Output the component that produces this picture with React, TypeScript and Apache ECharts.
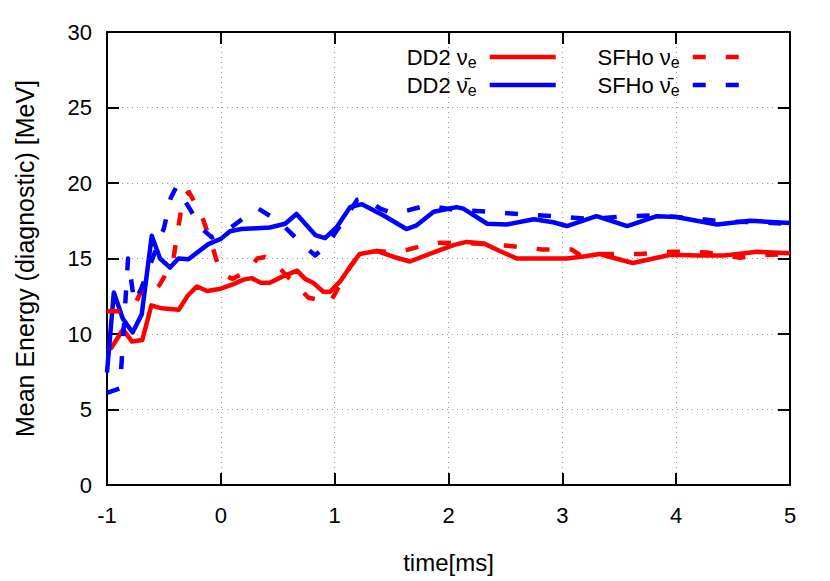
import React, { useEffect, useRef } from 'react';
import * as echarts from 'echarts';
import type { EChartsOption } from 'echarts';

// [time (ms), mean energy (MeV)]
const dd2Nue: [number, number][] = [
  [-1.0, 8.9], [-0.96, 9.1], [-0.86, 10.3], [-0.78, 9.5], [-0.69, 9.6], [-0.61, 11.9],
  [-0.52, 11.7], [-0.37, 11.6], [-0.29, 12.55], [-0.21, 13.15], [-0.12, 12.85], [0.0, 13.0],
  [0.11, 13.3], [0.2, 13.6], [0.27, 13.7], [0.35, 13.4], [0.43, 13.4], [0.54, 13.8],
  [0.67, 14.2], [0.74, 13.65], [0.81, 13.4], [0.9, 12.8], [0.96, 12.8], [1.05, 13.5],
  [1.14, 14.5], [1.22, 15.3], [1.37, 15.5], [1.52, 15.1], [1.66, 14.8], [1.87, 15.4],
  [2.05, 15.9], [2.16, 16.1], [2.31, 16.0], [2.45, 15.5], [2.6, 15.0], [2.8, 15.0],
  [3.04, 15.0], [3.2, 15.15], [3.33, 15.3], [3.47, 15.0], [3.62, 14.7], [3.8, 15.0],
  [3.95, 15.25], [4.2, 15.2], [4.42, 15.2], [4.6, 15.35], [4.71, 15.45], [5.0, 15.35],
];

const dd2Anue: [number, number][] = [
  [-1.0, 7.45], [-0.94, 12.75], [-0.86, 11.0], [-0.775, 10.1], [-0.695, 11.3], [-0.607, 16.5],
  [-0.534, 15.0], [-0.446, 14.4], [-0.373, 15.0], [-0.285, 14.95], [-0.11, 15.95], [0.0, 16.3],
  [0.08, 16.8], [0.18, 16.95], [0.315, 17.0], [0.43, 17.05], [0.565, 17.3], [0.665, 17.95],
  [0.83, 16.55], [0.915, 16.35], [1.02, 17.1], [1.135, 18.4], [1.24, 18.6], [1.43, 17.85],
  [1.63, 16.95], [1.72, 17.2], [1.87, 18.1], [2.07, 18.4], [2.13, 18.3], [2.34, 17.3],
  [2.51, 17.25], [2.75, 17.6], [2.92, 17.4], [3.04, 17.15], [3.3, 17.8], [3.57, 17.15],
  [3.83, 17.8], [4.0, 17.75], [4.36, 17.25], [4.65, 17.5], [5.0, 17.35],
];

const sfhoNue: [number, number][] = [
  [-1.0, 11.5], [-0.89, 11.5], [-0.8, 11.9], [-0.745, 12.1], [-0.69, 13.0], [-0.62, 13.2],
  [-0.578, 12.9], [-0.534, 13.3], [-0.42, 14.8], [-0.375, 17.0], [-0.33, 19.1], [-0.28, 19.4],
  [-0.17, 17.9], [-0.07, 15.7], [-0.007, 14.1], [0.1, 13.65], [0.24, 14.2], [0.32, 15.0],
  [0.39, 15.1], [0.48, 14.7], [0.56, 14.0], [0.68, 13.1], [0.77, 12.4], [0.96, 12.1],
  [1.05, 13.3], [1.14, 14.5], [1.22, 15.3], [1.37, 15.5], [1.52, 15.4], [1.65, 15.6],
  [1.8, 15.9], [1.93, 16.05], [2.22, 16.0], [2.52, 15.85], [2.82, 15.6], [3.08, 15.6],
  [3.15, 15.25], [3.35, 15.3], [3.68, 15.3], [3.97, 15.45], [4.27, 15.4], [4.56, 15.05],
  [4.7, 15.2], [5.0, 15.3],
];

const sfhoAnue: [number, number][] = [
  [-1.0, 6.1], [-0.886, 6.4], [-0.815, 15.0], [-0.76, 12.1], [-0.7, 13.0], [-0.6, 15.0],
  [-0.5, 17.0], [-0.44, 19.0], [-0.39, 19.75], [-0.17, 17.0], [-0.08, 16.4], [0.06, 16.9],
  [0.26, 18.0], [0.33, 18.3], [0.52, 17.4], [0.72, 15.9], [0.83, 15.2], [0.94, 16.0],
  [1.05, 17.2], [1.2, 18.9], [1.26, 19.0], [1.4, 18.3], [1.51, 18.0], [1.65, 18.2],
  [1.8, 18.5], [2.08, 18.2], [2.37, 18.1], [2.67, 17.9], [2.96, 17.8], [3.25, 17.6],
  [3.54, 17.8], [3.82, 17.85], [4.1, 17.7], [4.42, 17.45], [4.7, 17.4], [5.0, 17.3],
];

const seriesNames = ['DD2 νe', 'DD2 ν̄e', 'SFHo νe', 'SFHo ν̄e'];
const legendLabels: Record<string, string> = {
  'DD2 νe': '{t|DD2 ν}{s|e}',
  'DD2 ν̄e': '{t|DD2 ν\u0304}{s|e}',
  'SFHo νe': '{t|SFHo ν}{s|e}',
  'SFHo ν̄e': '{t|SFHo ν\u0304}{s|e}',
};

const FONT = "'Liberation Sans', Arial, Helvetica, sans-serif";
const DASH = [13, 20];
const LINE_W = 4.5;

const legendText = {
  color: '#000',
  fontFamily: FONT,
  fontSize: 22,
  rich: {
    t: { fontSize: 22, fontFamily: FONT, color: '#000' },
    s: { fontSize: 16, fontFamily: FONT, color: '#000', padding: [10, 8, 0, 0] },
  },
};

const frameAxis = {
  axisLine: { show: true, onZero: false, lineStyle: { color: '#000', width: 2 } },
  axisTick: { show: true, inside: true, length: 12, lineStyle: { color: '#000', width: 2 } },
};

const gridLine = { show: true, lineStyle: { color: '#9a9a9a', width: 1, type: [1, 4] } };

const App: React.FC = () => {
  const chartRef = useRef<HTMLDivElement>(null);

  useEffect(() => {
    if (!chartRef.current) return;
    const chart = echarts.init(chartRef.current, undefined, { renderer: 'svg' });

    const line = (name: string, data: [number, number][], color: string, dashed: boolean) => ({
      name,
      type: 'line' as const,
      data,
      symbol: 'none',
      showSymbol: false,
      smooth: false,
      lineStyle: { color, width: LINE_W, type: dashed ? DASH : 'solid', cap: 'butt' as const, join: 'round' as const },
      itemStyle: { color },
    });

    const legendBase = {
      orient: 'vertical' as const,
      align: 'right' as const,
      top: 46,
      padding: 0,
      itemHeight: 20,
      itemGap: 4,
      itemStyle: { opacity: 0, borderWidth: 0 },
      lineStyle: { width: LINE_W },
      formatter: (n: string) => legendLabels[n],
      textStyle: legendText,
    };

    const option: EChartsOption = {
      animation: false,
      backgroundColor: '#fff',
      grid: { left: 107, top: 32, right: 40, bottom: 96, containLabel: false },
      legend: [
        { ...legendBase, data: [seriesNames[0], seriesNames[1]], right: 272, itemWidth: 66 },
        { ...legendBase, data: [seriesNames[2], seriesNames[3]], right: 88, itemWidth: 47 },
      ],
      xAxis: [
        {
          type: 'value',
          min: -1,
          max: 5,
          interval: 1,
          name: 'time[ms]',
          nameLocation: 'middle',
          nameGap: 65,
          nameTextStyle: { fontSize: 24, fontFamily: FONT, color: '#000' },
          ...frameAxis,
          axisLabel: { fontSize: 22, fontFamily: FONT, color: '#000', margin: 19 },
          splitLine: gridLine,
        },
        {
          type: 'value',
          position: 'top',
          min: -1,
          max: 5,
          interval: 1,
          ...frameAxis,
          axisLabel: { show: false },
          splitLine: { show: false },
        },
      ],
      yAxis: [
        {
          type: 'value',
          min: 0,
          max: 30,
          interval: 5,
          name: 'Mean Energy (diagnostic) [MeV]',
          nameLocation: 'middle',
          nameGap: 70,
          nameTextStyle: { fontSize: 25, fontFamily: FONT, color: '#000' },
          ...frameAxis,
          axisLabel: { fontSize: 22, fontFamily: FONT, color: '#000', margin: 15 },
          splitLine: gridLine,
        },
        {
          type: 'value',
          position: 'right',
          min: 0,
          max: 30,
          interval: 5,
          ...frameAxis,
          axisLabel: { show: false },
          splitLine: { show: false },
        },
      ],
      series: [
        line(seriesNames[0], dd2Nue, '#ff0000', false),
        line(seriesNames[1], dd2Anue, '#0000ff', false),
        line(seriesNames[2], sfhoNue, '#ff0000', true),
        line(seriesNames[3], sfhoAnue, '#0000ff', true),
      ],
    };

    chart.setOption(option);
    return () => chart.dispose();
  }, []);

  return (
    <div
      ref={chartRef}
      style={{ position: 'fixed', left: 0, top: 0, width: 830, height: 581, background: '#fff' }}
    />
  );
};

export default App;
